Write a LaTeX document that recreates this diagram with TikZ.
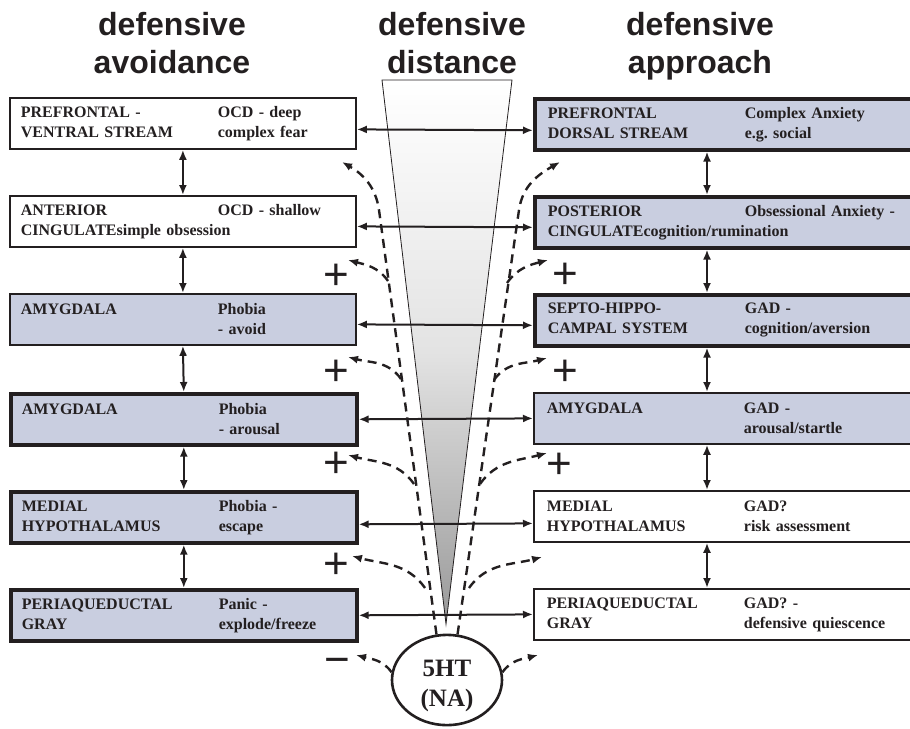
\documentclass[tikz,border=0pt]{standalone}
\usepackage{fontspec}
\setmainfont{Liberation Serif}
\newfontfamily\headfont{Liberation Sans}
\usepackage{tikz}
\usetikzlibrary{arrows.meta,positioning,shapes.geometric}
\definecolor{ink}{HTML}{231F20}
\definecolor{boxblue}{HTML}{C9CEE0}
\newcommand{\colw}{197pt}
\newcommand{\cells}[4]{\makebox[\colw][l]{#1}#2\\\makebox[\colw][l]{#3}#4}

\begin{document}
\begin{tikzpicture}[x=1pt,y=-1pt,
  region/.style={rectangle,draw=ink,line width=1.8pt,anchor=north west,minimum height=51pt,inner ysep=0pt,align=left,text=ink,font=\fontsize{16}{20}\selectfont\bfseries},
  lregion/.style={region,inner xsep=11pt,minimum width=346pt,text width=324pt},
  rregion/.style={region,inner xsep=13pt,minimum width=382pt,text width=356pt},
  tinted/.style={fill=boxblue},
  heavy/.style={line width=3.6pt},
  heading/.style={anchor=north,inner sep=0pt,align=center,text=ink,font=\headfont\bfseries\fontsize{32}{38}\selectfont},
  link/.style={draw=ink,line width=2pt,{Latex[length=10pt,width=8pt]}-{Latex[length=10pt,width=8pt]}},
  influence/.style={draw=ink,line width=2.4pt,dash pattern=on 9pt off 6pt,-{Latex[length=10pt,width=8pt]}},
  sign/.style={inner sep=0pt,text=ink,font=\headfont\fontsize{44}{44}\selectfont}]
  \useasboundingbox (0,0) rectangle (910,728);

  \node[heading] (avoid) at (172,12) {defensive\\avoidance};
  \node[heading] (dist) at (452,12) {defensive\\distance};
  \node[heading] (appr) at (700,12) {defensive\\approach};

  \draw[draw=ink,line width=0.8pt,top color=white,bottom color=gray!80,middle color=gray!22] (382,80) -- (512,80) -- (446,624) -- cycle;

  \node[lregion] (L1) at (9,97) {\cells{PREFRONTAL -}{OCD - deep}{VENTRAL STREAM}{complex fear}};
  \node[lregion] (L2) at (9,195) {\makebox[\colw][l]{ANTERIOR}OCD - shallow\\CINGULATEsimple obsession};
  \node[lregion,tinted] (L3) at (9,293) {\cells{AMYGDALA}{Phobia}{}{- avoid}};
  \node[lregion,tinted,heavy] (L4) at (9,392) {\cells{AMYGDALA}{Phobia}{}{- arousal}};
  \node[lregion,tinted,heavy] (L5) at (9,490) {\cells{MEDIAL}{Phobia -}{HYPOTHALAMUS}{escape}};
  \node[lregion,tinted,heavy] (L6) at (9,588) {\cells{PERIAQUEDUCTAL}{Panic -}{GRAY}{explode/freeze}};

  \node[rregion,tinted,heavy] (R1) at (533,97) {\cells{PREFRONTAL}{Complex Anxiety}{DORSAL STREAM}{e.g.\ social}};
  \node[rregion,tinted,heavy] (R2) at (533,195) {\makebox[\colw][l]{POSTERIOR}Obsessional Anxiety -\\CINGULATEcognition/rumination};
  \node[rregion,tinted,heavy] (R3) at (533,293) {\cells{SEPTO-HIPPO-}{GAD -}{CAMPAL SYSTEM}{cognition/aversion}};
  \node[rregion,tinted] (R4) at (533,392) {\cells{AMYGDALA}{GAD -}{}{arousal/startle}};
  \node[rregion] (R5) at (533,490) {\cells{MEDIAL}{GAD?}{HYPOTHALAMUS}{risk assessment}};
  \node[rregion] (R6) at (533,588) {\cells{PERIAQUEDUCTAL}{GAD? -}{GRAY}{defensive quiescence}};

  \node[ellipse,draw=ink,fill=white,line width=2.6pt,minimum width=110pt,minimum height=88pt,inner sep=0pt,align=center,text=ink,font=\fontsize{25}{30}\selectfont\bfseries] (ht) at (447,680) {\rule{0pt}{28.5pt}5HT\\(NA)};

  \coordinate (lb) at (379,210);
  \coordinate (rb) at (519,210);
  \coordinate (lt1) at (342,162);
  \coordinate (rt1) at (560,162);
  \coordinate (lj2) at (388,281);
  \coordinate (lj3) at (401,379);
  \coordinate (lj4) at (414,484);
  \coordinate (lj5) at (425,588);
  \coordinate (lt2) at (348,260);
  \coordinate (lt3) at (348,357);
  \coordinate (lt4) at (348,455);
  \coordinate (lt5) at (352,556);
  \coordinate (rj2) at (507,283);
  \coordinate (rj3) at (494,380);
  \coordinate (rj4) at (480,484);
  \coordinate (rj5) at (469,588);
  \coordinate (rt2) at (548,260);
  \coordinate (rt3) at (547,358);
  \coordinate (rt4) at (547,453);
  \coordinate (rt5) at (542,557);
  \coordinate (lm) at (356,655);
  \coordinate (rm) at (538,655);

  \draw[influence] (ht.103) -- (lb) to[out=98,in=-30] (lt1);
  \draw[influence] (ht.77) -- (rb) to[out=82,in=-150] (rt1);
  \foreach \i in {2,...,5} {
    \draw[influence] (lj\i) to[out=125,in=-15] (lt\i);
    \draw[influence] (rj\i) to[out=55,in=-165] (rt\i);
  }
  \draw[influence] (ht.172) to[out=125,in=-15] (lm);
  \draw[influence] (ht.8) to[out=55,in=-165] (rm);

  \foreach \r/\d in {1/6pt,2/5pt,3/5pt,4/0pt,5/7pt,6/0pt}
    \draw[link] ([yshift=-\d]L\r.east) -- ([yshift=-\d]R\r.west);
  \foreach \a/\b in {1/2,2/3,3/4,4/5,5/6} {
    \draw[link] (L\a.south) -- (L\b.north);
    \draw[link] ([xshift=174pt]R\a.south west) -- ([xshift=174pt]R\b.north west);
  }

  \node[sign] (lp2) at (336,277) {+};
  \node[sign] (lp3) at (336,373) {+};
  \node[sign] (lp4) at (336,465) {+};
  \node[sign] (lp5) at (336,566) {+};
  \node[sign] (rp2) at (565,276) {+};
  \node[sign] (rp3) at (565,373) {+};
  \node[sign] (rp4) at (559,466) {+};
  \node[sign] (lmin) at (337,666) {−};
\end{tikzpicture}
\end{document}
